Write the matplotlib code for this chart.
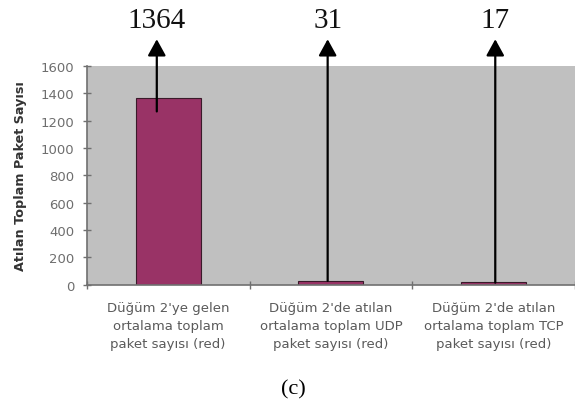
import matplotlib.pyplot as plt
from matplotlib.transforms import blended_transform_factory

# bar chart: packets arriving at / dropped by node 2 (RED)
categories = [
    "Düğüm 2'ye gelen\nortalama toplam\npaket sayısı (red)",
    "Düğüm 2'de atılan\nortalama toplam UDP\npaket sayısı (red)",
    "Düğüm 2'de atılan\nortalama toplam TCP\npaket sayısı (red)",
]
values = [1364, 31, 17]
value_labels = ["1364", "31", "17"]
yticks = [0, 200, 400, 600, 800, 1000, 1200, 1400, 1600]

fig = plt.figure(figsize=(5.75, 4.02), dpi=100)
ax = fig.add_axes([0.151, 0.289, 0.849, 0.544])
ax.set_facecolor("#c0c0c0")

x = list(range(len(values)))
ax.bar(x, values, width=0.4, color="#993366", edgecolor="#3a1a2a", linewidth=0.8, zorder=2)

ax.set_xlim(-0.5, 2.5)
ax.set_ylim(0, 1600)
ax.set_yticks(yticks)
ax.set_xticks([-0.5, 0.5, 1.5, 2.5])
ax.set_xticklabels([])
ax.tick_params(axis="both", direction="inout", length=6, width=1, color="#707070")
ax.tick_params(axis="y", labelsize=9.5, labelcolor="#6e6e6e", pad=6)

# category names under each bar
for xi, name in zip(x, categories):
    ax.text(xi, -0.075, name, transform=blended_transform_factory(ax.transData, ax.transAxes),
            ha="center", va="top", fontsize=9.5, color="#5a5a5a", linespacing=1.5)

for side in ["top", "right"]:
    ax.spines[side].set_visible(False)
for side in ["left", "bottom"]:
    ax.spines[side].set_color("#707070")
    ax.spines[side].set_linewidth(1.2)

ax.set_ylabel("Atılan Toplam Paket Sayısı", fontsize=9.2, fontweight="bold",
              color="#333333", labelpad=10)

# value callouts: arrow from bar up above the plot, number on top
trans = blended_transform_factory(ax.transData, ax.transAxes)
arrow_dx = [-0.07, -0.02, 0.01]
for xi, v, lab, dx in zip(x, values, value_labels, arrow_dx):
    start = ax.transAxes.inverted().transform(ax.transData.transform((0, v * 0.93)))[1]
    ax.annotate("", xy=(xi + dx, 1.123), xycoords=trans,
                xytext=(xi + dx, start), textcoords=trans,
                arrowprops=dict(arrowstyle="-|>,head_length=1.0,head_width=0.55",
                                color="black", lw=1.6, shrinkA=0, shrinkB=0),
                annotation_clip=False, zorder=3)
    ax.text(xi + dx, 1.21, lab, transform=trans, ha="center", va="center",
            fontsize=21, family="Liberation Serif", color="#111111")

fig.text(0.51, 0.03, "(c)", ha="center", va="center", fontsize=16, family="Liberation Serif")

fig.savefig("out.png", dpi=100)
